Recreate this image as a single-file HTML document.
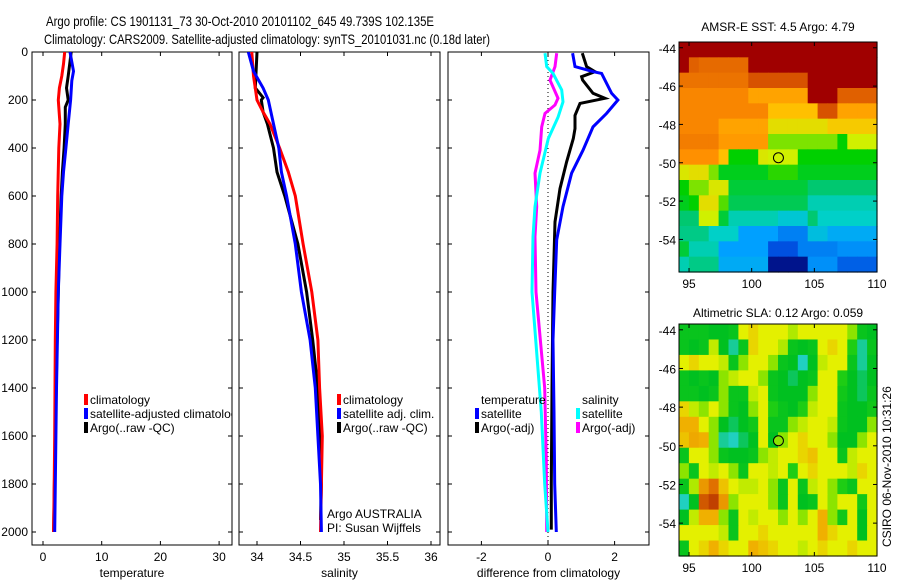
<!DOCTYPE html>
<html><head><meta charset="utf-8"><style>
body{margin:0;background:#fff;}
svg{display:block;font-family:"Liberation Sans",sans-serif;font-size:12px;}
</style></head><body>
<svg id="fig" width="900" height="580" viewBox="0 0 900 580">
<rect width="900" height="580" fill="#fff"/>
<text x="46" y="26" font-size="14" textLength="388" lengthAdjust="spacingAndGlyphs">Argo profile: CS 1901131_73 30-Oct-2010 20101102_645 49.739S 102.135E</text>
<text x="44" y="44" font-size="14" textLength="446" lengthAdjust="spacingAndGlyphs">Climatology: CARS2009. Satellite-adjusted climatology: synTS_20101031.nc (0.18d later)</text>
<text x="778" y="31" font-size="12" text-anchor="middle">AMSR-E SST: 4.5 Argo: 4.79</text>
<text x="778" y="317" font-size="12" text-anchor="middle">Altimetric SLA: 0.12 Argo: 0.059</text>
<text x="0" y="0" font-size="12" transform="translate(891,547) rotate(-90)">CSIRO 06-Nov-2010 10:31:26</text>
<g id="layer"></g>
</svg>
<script>
// ---- profile data ----
const tClimDepth=[0,50,100,150,200,300,400,600,800,1000,1200,1400,1600,1800,2000];
const tClim=[3.7,3.5,3.2,2.8,2.6,2.9,2.7,2.5,2.4,2.2,2.1,2.05,2.0,1.9,1.8];
const tSatDepth=[0,80,120,200,300,400,500,600,800,1000,1200,1400,1600,1800,2000];
const tSat=[4.6,5.2,4.9,4.7,4.3,3.9,3.5,3.2,2.9,2.6,2.45,2.3,2.2,2.1,2.0];
const tArgoDepth=[0,100,150,200,230,300,400,500,600,800,1000,1200,1400,1600,1800,2000];
const tArgo=[4.8,4.3,4.0,4.3,3.8,3.8,3.6,3.3,3.1,2.8,2.6,2.4,2.25,2.1,1.95,1.8];
const sClimDepth=[0,100,200,250,300,400,500,600,800,1000,1200,1400,1600,1800,2000];
const sClim=[33.94,33.96,34.0,34.07,34.15,34.26,34.36,34.44,34.53,34.63,34.70,34.72,34.75,34.74,34.73];
const sSatDepth=[0,80,150,200,300,400,500,600,800,1000,1200,1400,1600,1800,2000];
const sSat=[33.90,33.96,34.07,34.13,34.19,34.25,34.28,34.34,34.44,34.51,34.61,34.67,34.70,34.73,34.74];
const sArgoDepth=[0,150,190,200,250,300,400,500,600,800,1000,1200,1400,1600,1800,1950];
const sArgo=[34.0,33.98,34.07,34.05,34.07,34.12,34.19,34.23,34.32,34.47,34.57,34.64,34.70,34.72,34.74,34.73];
const dTSatDepth=[5,61,82,89,172,200,256,312,409,505,644,783,1000,1200,1500,1800,2000];
const dTSat=[0.74,0.81,1.36,1.61,1.91,2.1,1.76,1.35,1.05,0.71,0.45,0.26,0.2,0.15,0.18,0.2,0.25];
const dTArgoDepth=[5,61,82,103,117,172,193,214,264,319,361,458,569,708,1000,1400,1800,1990];
const dTArgo=[1.03,1.16,1.41,1.01,1.04,1.35,1.71,0.96,0.81,0.81,0.76,0.56,0.36,0.21,0.15,0.12,0.1,0.1];
const dSSatDepth=[5,61,89,158,208,272,361,505,644,770,1000,1500,1800,2000];
const dSSat=[-0.09,-0.04,0.15,0.41,0.45,0.3,0.01,-0.24,-0.39,-0.45,-0.48,-0.2,-0.1,0.0];
const dSArgoDepth=[5,61,117,193,221,256,312,409,505,644,770,1000,1400,1700,2000];
const dSArgo=[0.26,0.21,0.06,0.3,0.21,-0.09,-0.19,-0.24,-0.39,-0.34,-0.39,-0.36,-0.1,-0.05,-0.04];
const depthTicks=[0,200,400,600,800,1000,1200,1400,1600,1800,2000];
const tempTicks=[0,10,20,30];
const salTicks=[34,34.5,35,35.5,36];
const diffTicks=[-2,0,2];
const latTicks=[-44,-46,-48,-50,-52,-54];
const lonTicks=[95,100,105,110];
const argoLon=102.135, argoLat=-49.739;
// SST grid (deg C), rows north->south, 20 cols
const sstGrid=[
[7,7,7,7,7,7,7,7,7,7,7,7,7,7,7,7,7,7,7,7],
[7,6.3,6.2,6.2,6.2,6.2,6.2,7,7,7,7,7,7,7,7,7,7,7,7,7],
[6.1,6.1,6.1,6.1,6.1,6.1,6.1,6.4,6.4,6.4,6.4,6.4,6.4,7,7,7,7,7,7,7],
[5.9,5.9,5.9,5.9,5.9,5.9,5.9,5.6,5.6,5.6,5.6,5.6,5.6,7,7,7,6.3,6.3,6.3,6.3],
[5.9,5.9,5.9,5.9,5.9,5.9,5.9,5.9,5.9,5.3,5.3,5.3,5.3,5.3,6.4,6.4,5.6,5.6,5.6,5.6],
[5.9,5.9,5.9,5.9,5.6,5.6,5.6,5.6,5.6,5.0,5.0,5.0,5.0,5.0,5.0,5.2,5.2,5.2,5.2,5.2],
[6.0,6.0,6.0,6.0,5.7,5.7,5.7,5.7,5.7,4.6,4.6,4.6,4.6,4.6,4.6,4.6,4.3,4.8,4.8,4.8],
[5.8,5.8,5.8,5.8,5.3,4.3,4.3,4.3,4.9,4.8,4.8,4.8,4.3,4.3,4.3,4.3,4.3,4.3,4.3,4.3],
[4.9,5.0,5.0,4.6,4.2,4.2,4.2,4.2,4.2,4.4,4.4,4.4,4.2,4.2,4.2,4.2,4.2,4.2,4.2,4.2],
[4.3,4.6,4.6,4.9,4.9,4.1,4.1,4.1,4.1,4.1,4.1,4.1,4.1,3.9,3.9,3.9,3.9,3.9,3.9,3.9],
[4.2,4.3,5.0,5.0,4.5,4.0,4.0,4.0,4.0,4.0,4.0,4.0,4.0,3.6,3.6,3.6,3.6,3.6,3.6,3.6],
[3.9,3.9,4.8,4.8,4.1,3.6,3.6,3.6,3.6,3.6,3.4,3.4,3.4,3.9,3.5,3.5,3.5,3.5,3.5,3.5],
[3.8,3.8,3.8,3.5,3.5,3.5,3.0,3.0,3.0,3.0,2.8,2.8,2.8,3.3,3.3,3.1,3.1,3.1,3.1,3.1],
[4.1,3.6,3.6,3.6,3.0,3.0,3.0,3.0,3.0,2.5,2.5,2.5,2.8,2.8,2.8,2.8,2.9,2.9,2.9,2.9],
[3.6,3.8,3.8,3.8,3.1,3.1,3.1,3.1,3.1,2.0,2.0,2.0,2.0,2.9,2.9,2.9,2.6,2.6,2.6,2.6]];
// SLA grid (m)
const slaGrid=[
[-.1,-.1,-.1,-.12,-.12,-.1,.05,.08,.05,.05,.05,.02,.05,.05,.05,.05,.05,0,-.1,-.12],
[-.1,-.12,-.1,.03,-.12,-.18,-.1,.08,.05,.05,.02,-.1,-.12,-.1,.05,.08,.05,-.05,-.18,-.1],
[.05,.08,.05,.05,.03,-.1,0,.05,.05,0,-.1,-.12,-.2,-.12,.03,.05,.05,-.1,-.18,-.12],
[-.1,-.12,-.1,-.12,0,.03,.05,.05,0,-.1,-.12,-.15,-.12,-.1,.05,.05,-.05,-.12,-.15,-.12],
[-.1,-.1,-.12,-.1,0,-.1,-.1,.03,.05,-.1,-.12,-.12,-.12,0,.05,.05,-.08,-.12,-.15,-.1],
[.08,.03,0,.05,0,-.1,-.12,0,.05,-.05,-.1,-.12,-.05,.03,.05,.05,-.1,-.12,-.12,-.08],
[.12,.12,.05,0,-.12,-.15,-.12,-.08,.05,-.1,-.1,0,.03,.05,.05,.03,-.1,-.12,-.12,0],
[.1,.13,.12,0,-.18,-.2,-.15,-.12,.05,-.12,0,.05,.08,.05,.05,0,-.12,-.12,0,.05],
[-.1,.05,.05,0,-.1,-.12,-.12,-.1,0,.03,.05,.05,.08,.1,.05,.05,-.1,.03,.05,.05],
[0,-.1,.05,.03,.05,0,-.1,.05,.05,.03,.05,-.05,.05,.08,.05,.05,.05,.03,.08,.05],
[-.1,.02,.15,.2,.1,.05,.03,.03,.05,0,-.1,.05,-.1,.03,.05,0,-.05,-.1,.05,.05],
[-.2,-.12,.25,.3,.15,0,.05,.05,.05,0,-.1,.05,-.12,-.1,.05,0,.05,.05,-.08,.05],
[-.12,.03,.12,.12,0,-.1,.05,.03,.05,.05,0,.05,0,.05,.12,0,-.08,.05,-.12,.05],
[.05,.05,.05,.05,.03,-.1,.05,.05,.08,.05,.05,.05,.05,.05,.12,.08,.05,.05,-.12,.05],
[-.1,.05,.08,.12,.08,.05,.05,.12,.1,.08,.05,.05,.03,.05,.08,.05,.05,.08,.05,.05]];

const NS='http://www.w3.org/2000/svg';
const layer=document.getElementById('layer');
function mk(tag,attrs,parent){const e=document.createElementNS(NS,tag);for(const k in attrs)e.setAttribute(k,attrs[k]);(parent||layer).appendChild(e);return e;}
const yD=z=>52+z*0.24;
const panels=[
 {x0:32,x1:232,sx:v=>43+v*5.87,ticks:tempTicks,label:'temperature',name:'temperature'},
 {x0:239,x1:440,sx:v=>257+(v-34)*87,ticks:salTicks,label:'salinity',name:'salinity'},
 {x0:448,x1:649,sx:v=>548+v*33.3,ticks:diffTicks,label:'difference from climatology',name:'difference'}];
const T=52,B=545;
const defs=mk('defs',{});
panels.forEach((p,i)=>{
 const cp=mk('clipPath',{id:'cp'+i},defs);mk('rect',{x:p.x0,y:T,width:p.x1-p.x0,height:B-T},cp);
 const box=mk('rect',{x:p.x0,y:T,width:p.x1-p.x0,height:B-T,fill:'none',stroke:'#000','stroke-width':1});
 
 
 p.ticks.forEach(v=>{const x=p.sx(v);
  const t1=mk('line',{x1:x,x2:x,y1:T,y2:T+4,stroke:'#000'});
  
  
  const t2=mk('line',{x1:x,x2:x,y1:B,y2:B-4,stroke:'#000'});
  
  
  const tl=mk('text',{x:x,y:561,'text-anchor':'middle'});tl.textContent=String(v);
  
  
 });
 depthTicks.forEach(z=>{const y=yD(z);
  const a=mk('line',{x1:p.x0,x2:p.x0+4,y1:y,y2:y,stroke:'#000'});
  
  
  const b=mk('line',{x1:p.x1,x2:p.x1-4,y1:y,y2:y,stroke:'#000'});
  
  
  if(i===0){const l=mk('text',{x:28,y:y+4,'text-anchor':'end'});l.textContent=String(z);
   
   }
 });
 const xl=mk('text',{x:(p.x0+p.x1)/2,y:577,'text-anchor':'middle'});xl.textContent=p.label;
 
 
});
const zl=mk('line',{x1:panels[2].sx(0),x2:panels[2].sx(0),y1:T,y2:B,stroke:'#000','stroke-dasharray':'1,3','stroke-width':1});


function series(pi,depths,vals,color,name){
 const p=panels[pi];const pts=depths.map((z,k)=>p.sx(vals[k]).toFixed(1)+','+yD(z).toFixed(1)).join(' ');
 const e=mk('polyline',{points:pts,fill:'none',stroke:color,'stroke-width':3,'clip-path':'url(#cp'+pi+')'});
 
 
}
series(0,tArgoDepth,tArgo,'#000','temp-argo-line');
series(0,tClimDepth,tClim,'#f00','temp-climatology-line');
series(0,tSatDepth,tSat,'#00f','temp-satellite-line');
series(1,sArgoDepth,sArgo,'#000','sal-argo-line');
series(1,sClimDepth,sClim,'#f00','sal-climatology-line');
series(1,sSatDepth,sSat,'#00f','sal-satellite-line');
series(2,dSArgoDepth,dSArgo,'#f0f','diff-sal-argo-line');
series(2,dSSatDepth,dSSat,'#0ff','diff-sal-satellite-line');
series(2,dTArgoDepth,dTArgo,'#000','diff-temp-argo-line');
series(2,dTSatDepth,dTSat,'#00f','diff-temp-satellite-line');
function legEntry(x,y,color,txt,name,clip){
 const g=mk('g',{});
 
 
 if(color)mk('rect',{x:x-6,y:y-10,width:4,height:11,fill:color},g);
 const t=mk('text',{x:x,y:y},g);t.textContent=txt;if(clip!==undefined)t.setAttribute('clip-path','url(#cp'+clip+')');
}
legEntry(90,404,'#f00','climatology','temp-legend-climatology');
legEntry(90,418,'#00f','satellite-adjusted climatology','temp-legend-satellite',0);
legEntry(90,432,'#000','Argo(..raw -QC)','temp-legend-argo');
legEntry(343,404,'#f00','climatology','sal-legend-climatology');
legEntry(343,418,'#00f','satellite adj. clim.','sal-legend-satellite');
legEntry(343,432,'#000','Argo(..raw -QC)','sal-legend-argo');
legEntry(327,518,null,'Argo AUSTRALIA','argo-australia-label');
legEntry(327,532,null,'PI: Susan Wijffels','pi-label');
legEntry(481,404,null,'temperature','diff-legend-temp-header');
legEntry(481,418,'#00f','satellite','diff-legend-temp-satellite');
legEntry(481,432,'#000','Argo(-adj)','diff-legend-temp-argo');
legEntry(582,404,null,'salinity','diff-legend-sal-header');
legEntry(582,418,'#0ff','satellite','diff-legend-sal-satellite');
legEntry(582,432,'#f0f','Argo(-adj)','diff-legend-sal-argo');
function lerpStops(stops,v){if(v<=stops[0][0])return stops[0][1];for(let i=1;i<stops.length;i++){if(v<=stops[i][0]){const a=stops[i-1],b=stops[i],f=(v-a[0])/(b[0]-a[0]);return 'rgb('+[0,1,2].map(k=>Math.round(a[1][k]+(b[1][k]-a[1][k])*f)).join(',')+')';}}return 'rgb('+stops[stops.length-1][1].join(',')+')';}
function toRgb(c){return typeof c==='string'?c:'rgb('+c.join(',')+')';}
const sstStops=[[2.0,[0,20,140]],[2.5,[0,80,224]],[3.0,[0,160,255]],[3.5,[0,208,200]],[3.9,[0,200,112]],[4.3,[0,208,0]],[4.8,[208,240,0]],[5.3,[255,192,0]],[5.8,[255,144,0]],[6.3,[224,96,0]],[7.0,[160,0,0]]];
const slaStops=[[-0.2,[32,208,192]],[-0.12,[0,192,32]],[-0.05,[30,205,20]],[0,[140,228,0]],[0.05,[228,240,0]],[0.12,[240,176,0]],[0.2,[224,112,0]],[0.3,[192,64,0]]];
const latTop=-43.7,latBot=-55.7,lonL=94.2,lonR=110.0;
function drawMap(grid,stops,x0,y0,x1,y1,name){
 const lx=v=>x0+(v-lonL)/(lonR-lonL)*(x1-x0), ly=v=>y0+(v-latTop)/(latBot-latTop)*(y1-y0);
 const rows=grid.length,cols=grid[0].length,cw=(x1-x0)/cols,ch=(y1-y0)/rows;
 grid.forEach((row,r)=>row.forEach((v,c)=>{
  const e=mk('rect',{x:(x0+c*cw).toFixed(2),y:(y0+r*ch).toFixed(2),width:(cw+0.6).toFixed(2),height:(ch+0.6).toFixed(2),fill:toRgb(lerpStops(stops,v))});
  
  
 }));
 const fr=mk('rect',{x:x0,y:y0,width:x1-x0,height:y1-y0,fill:'none',stroke:'#000'});
 
 
 latTicks.forEach(v=>{const y=ly(v);
  const a=mk('line',{x1:x0,x2:x0+4,y1:y,y2:y,stroke:'#000'});
  
  
  const b=mk('line',{x1:x1,x2:x1-4,y1:y,y2:y,stroke:'#000'});
  
  
  const t=mk('text',{x:x0-3,y:y+5,'text-anchor':'end'});t.textContent=String(v);
  
  
 });
 lonTicks.forEach(v=>{const x=lx(v);
  const a=mk('line',{x1:x,x2:x,y1:y1,y2:y1-4,stroke:'#000'});
  
  
  const b=mk('line',{x1:x,x2:x,y1:y0,y2:y0+4,stroke:'#000'});
  
  
  const t=mk('text',{x:x,y:y1+16,'text-anchor':'middle'});t.textContent=String(v);
  
  
 });
 const gi=Math.floor((argoLat-latTop)/(latBot-latTop)*rows), gj=Math.floor((argoLon-lonL)/(lonR-lonL)*cols);
 const m=mk('circle',{cx:lx(argoLon),cy:ly(argoLat),r:5,fill:toRgb(lerpStops(stops,grid[gi][gj])),stroke:'#000','stroke-width':1});
 
 
}
drawMap(sstGrid,sstStops,679,42,877,272,'sst-map');
drawMap(slaGrid,slaStops,679,324,877,556,'sla-map');
</script>
</body></html>
